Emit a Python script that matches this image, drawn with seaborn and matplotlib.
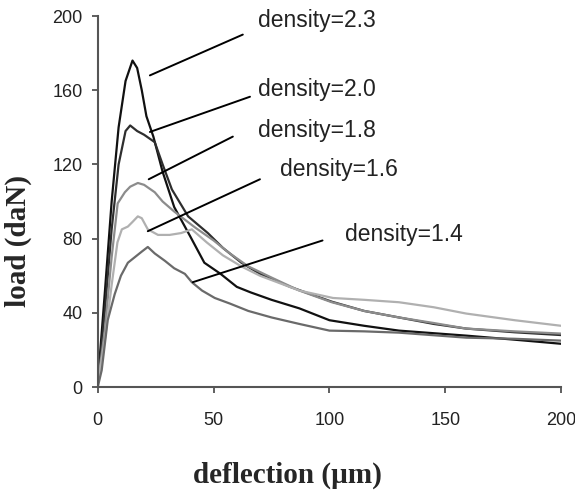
import pandas as pd
import matplotlib
matplotlib.use("Agg")
import matplotlib.pyplot as plt
import seaborn as sns

# load-deflection curves, one per density
x_23 = [0, 3, 6, 9, 12, 15, 17, 19, 21, 24, 28, 33, 40, 46, 53, 60, 66, 75, 87, 100, 115, 130, 145, 159, 180, 200]
y_23 = [2, 50, 100, 140, 165, 176, 172, 160, 146, 135, 116, 97, 81, 67, 61, 54, 51, 47, 42.4, 36, 33, 30.4, 29, 27.7, 25.5, 23.3]

x_20 = [0, 3, 6, 9, 12, 14, 17, 20, 24.6, 28, 32, 39, 47.5, 54, 62, 70, 83, 101, 115, 130, 145, 159, 180, 200]
y_20 = [2, 40, 85, 120, 138, 141, 138, 136, 132, 120, 106.5, 92, 83, 75, 67, 61, 54, 46, 41, 37.5, 34, 31.5, 29.5, 28]

x_18 = [0, 3, 6, 8.6, 11.7, 14, 17.3, 20, 24.6, 28, 33, 42, 50, 57, 65, 75, 87, 101, 115, 130, 145, 159, 180, 200]
y_18 = [2, 30, 70, 99, 105, 108, 110, 109, 105, 100, 94.6, 86, 79, 72, 65, 59, 52, 45.7, 41, 37.5, 34.5, 31.5, 30, 28.8]

x_16 = [0, 3, 6, 8.5, 10.4, 13, 15, 17.3, 19, 21.6, 26, 31, 36, 40.6, 47, 54, 62, 70, 87, 101.5, 115, 130, 145, 159, 180, 200]
y_16 = [2, 25, 55, 78, 85, 86.5, 89, 92, 91, 85, 82, 82, 83, 85, 78, 71, 65, 60, 52, 48, 47, 45.7, 43, 39.6, 36, 33]

x_14 = [0, 1.7, 4.3, 7.3, 10, 13, 16, 19, 21.6, 24.6, 29, 33, 37.6, 40.6, 45, 50.5, 57, 65, 75, 87, 100, 115, 130, 159, 180, 200]
y_14 = [0, 9, 36, 50, 60, 67, 70, 73, 75.5, 72, 68, 64, 61, 56.5, 52, 48, 45, 41, 37.5, 34, 30.4, 30, 29.3, 26.6, 26, 25]

densities = ["2.3", "2.0", "1.8", "1.6", "1.4"]
curve_x = [x_23, x_20, x_18, x_16, x_14]
curve_y = [y_23, y_20, y_18, y_16, y_14]
colours = ["#111111", "#2e2e2e", "#8c8c8c", "#b0b0b0", "#6a6a6a"]

# label positions (text anchor and leader line start/end), data units
label_xy = [(69, 197.5), (69, 160.5), (69, 138.5), (78.6, 117), (106.7, 82.2)]
lead_from = [(22.5, 168), (22.5, 137.5), (22, 112), (21.6, 84), (41, 56.5)]
lead_to = [(62.6, 190), (65.7, 156.5), (58.3, 135), (70, 112), (97, 79)]

rows = []
for d, xs, ys in zip(densities, curve_x, curve_y):
    for xv, yv in zip(xs, ys):
        rows.append({"density": d, "deflection": xv, "load": yv})
df = pd.DataFrame(rows)

sns.set_style("ticks")
plt.rcParams["font.family"] = ["Liberation Sans", "DejaVu Sans"]

fig = plt.figure(figsize=(5.75, 4.92), dpi=100)
ax = fig.add_axes([0.170, 0.2134, 0.806, 0.754])

sns.lineplot(data=df, x="deflection", y="load", hue="density",
             palette=dict(zip(densities, colours)), hue_order=densities,
             estimator=None, sort=False, linewidth=1.6, legend=False, ax=ax)

for d, (tx, ty), p0, p1 in zip(densities, label_xy, lead_from, lead_to):
    ax.plot([p0[0], p1[0]], [p0[1], p1[1]], color="black", linewidth=1.4)
    ax.text(tx, ty, "density=" + d, fontsize=16.5, va="center", ha="left",
            color="#222222", clip_on=False)

ax.set_xlim(0, 200)
ax.set_ylim(0, 200)
ax.set_xticks([0, 50, 100, 150, 200])
ax.set_yticks([0, 40, 80, 120, 160, 200])
ax.tick_params(labelsize=13, length=4, width=1.2, colors="#444444", labelcolor="#222222")
ax.tick_params(axis="x", pad=14)
ax.tick_params(axis="y", pad=7)
for s in ["left", "bottom"]:
    ax.spines[s].set_color("#555555")
    ax.spines[s].set_linewidth(1.5)
sns.despine(ax=ax)

ax.set_xlabel("deflection (µm)", fontsize=21, fontweight="bold",
              family=["Liberation Serif", "DejaVu Serif"], va="center")
ax.xaxis.set_label_coords(0.41, -0.238)
ax.set_ylabel("load (daN)", fontsize=21, fontweight="bold",
              family=["Liberation Serif", "DejaVu Serif"], va="center")
ax.yaxis.set_label_coords(-0.171, 0.394)

fig.savefig("out.png", dpi=100)
